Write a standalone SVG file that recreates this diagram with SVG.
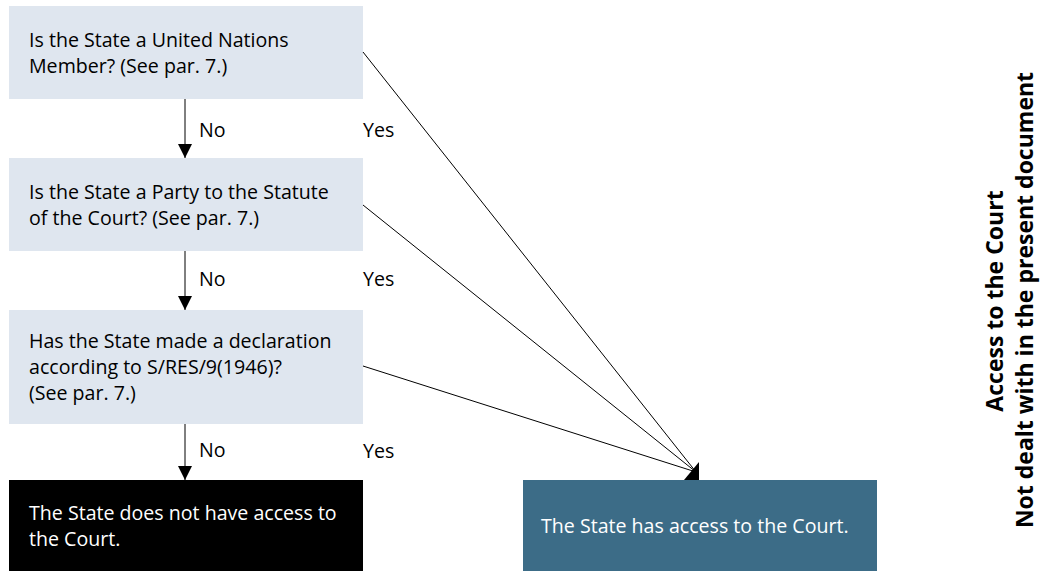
<svg xmlns="http://www.w3.org/2000/svg" width="1041" height="571" viewBox="0 0 1041 571">
<style>
text{font-family:"Open Sans","Noto Sans","Liberation Sans",sans-serif;font-size:19.6px;fill:#000}
.q{fill:#dfe6ef}
.w{fill:#fff}
.b{font-weight:bold;font-size:23px}
.ln{stroke:#000;stroke-width:1;fill:none}
</style>
<defs>
<marker id="ah" viewBox="0 0 10 10" refX="10" refY="5" markerWidth="14" markerHeight="14" markerUnits="userSpaceOnUse" orient="auto">
<path d="M0,0 L10,5 L0,10 z" fill="#000"/>
</marker>
</defs>
<rect width="1041" height="571" fill="#fff"/>
<g id="n1"><rect class="q" x="9" y="6" width="354" height="93"/>
<text x="29" y="47">Is the State a United Nations</text><text x="29" y="73">Member? (See par. 7.)</text></g>
<g id="n2"><rect class="q" x="9" y="158" width="354" height="93"/>
<text x="29" y="199">Is the State a Party to the Statute</text><text x="29" y="225">of the Court? (See par. 7.)</text></g>
<g id="n3"><rect class="q" x="9" y="310" width="354" height="114"/>
<text x="29" y="348">Has the State made a declaration</text><text x="29" y="374">according to S/RES/9(1946)?</text><text x="29" y="400">(See par. 7.)</text></g>
<g id="n4"><rect fill="#000" x="9" y="480" width="354" height="91"/>
<text class="w" x="29" y="520">The State does not have access to</text><text class="w" x="29" y="546">the Court.</text></g>
<g id="n5"><rect fill="#3c6c87" x="523" y="480" width="354" height="91"/>
<text class="w" x="541" y="533">The State has access to the Court.</text></g>
<g id="side"><text class="b" transform="translate(1003,301) rotate(-90)" text-anchor="middle">Access to the Court</text>
<text class="b" transform="translate(1033,300) rotate(-90)" text-anchor="middle">Not dealt with in the present document</text></g>
<g id="connectors">
<line class="ln" x1="185" y1="99" x2="185" y2="158" marker-end="url(#ah)"/>
<line class="ln" x1="185" y1="251" x2="185" y2="310" marker-end="url(#ah)"/>
<line class="ln" x1="185" y1="424" x2="185" y2="480" marker-end="url(#ah)"/>
<line class="ln" x1="363" y1="52" x2="696" y2="472"/>
<line class="ln" x1="363" y1="205" x2="696" y2="472"/>
<line class="ln" x1="363" y1="366" x2="696" y2="472"/>
<polygon points="699,462 699,480 684,480" fill="#000"/>
<text x="199" y="137">No</text><text x="363" y="137">Yes</text>
<text x="199" y="286">No</text><text x="363" y="286">Yes</text>
<text x="199" y="457">No</text><text x="363" y="458">Yes</text>
</g>
</svg>
